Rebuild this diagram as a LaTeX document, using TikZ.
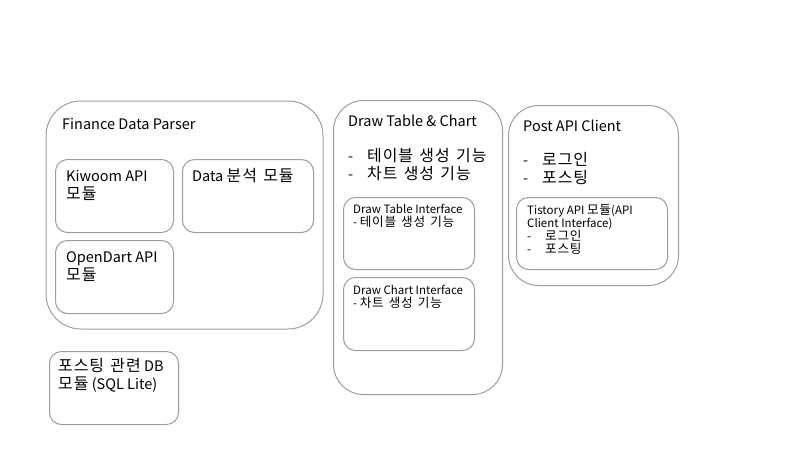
\documentclass[tikz,border=0pt]{standalone}
\usepackage{fontspec}
\setmainfont{Noto Sans CJK KR}
\newfontfamily\krf{Noto Sans CJK KR}[Scale=1.1,LetterSpace=6,WordSpace=1.4]
\newcommand{\kr}[1]{{\krf #1}}
\begin{document}
\begin{tikzpicture}[x=1pt,y=-1pt,
  outerbox/.style={draw=black!38, line width=1pt, rounded corners=30pt, anchor=north west, inner sep=0pt},
  innerbox/.style={draw=black!38, line width=1pt, rounded corners=12pt, anchor=north west, inner sep=0pt},
  big/.style={anchor=base west, inner sep=0pt, font=\fontsize{14.5}{16}\selectfont},
  small/.style={anchor=base west, inner sep=0pt, font=\fontsize{11.5}{13}\selectfont}]
\useasboundingbox (0,0) rectangle (800,450);
% Finance Data Parser
\node[outerbox, minimum width=277pt, minimum height=228pt, rounded corners=35pt] (fdp) at (45.5,100.5) {};
\node[big] (fdpT) at (62,129) {Finance Data Parser};
\node[innerbox, minimum width=118pt, minimum height=73pt] (kiw) at (55,159) {};
\node[big] (kiwA) at (66,181) {Kiwoom API};
\node[big] (kiwB) at (66,199) {\kr{모듈}};
\node[innerbox, minimum width=131pt, minimum height=73pt] (dat) at (182,159) {};
\node[big] (datA) at (192,181) {Data \kr{분석 모듈}};
\node[innerbox, minimum width=118pt, minimum height=73pt] (odt) at (55,240) {};
\node[big] (odtA) at (66,262) {OpenDart API};
\node[big] (odtB) at (66,280) {\kr{모듈}};
% DB
\node[innerbox, minimum width=129pt, minimum height=73pt] (db) at (49,351) {};
\node[big] (dbA) at (58,371) {\kr{포스팅 관련} DB};
\node[big] (dbB) at (58,389) {\kr{모듈} (SQL Lite)};
% Draw Table & Chart
\node[outerbox, minimum width=169pt, minimum height=294pt] (dtc) at (333,100) {};
\node[big] (dtcT) at (348,126) {Draw Table \& Chart};
\node[big] (dtcD1) at (348,161) {-};
\node[big] (dtcL1) at (367,161) {\kr{테이블 생성 기능}};
\node[big] (dtcD2) at (348,179) {-};
\node[big] (dtcL2) at (367,179) {\kr{차트 생성 기능}};
\node[innerbox, minimum width=131pt, minimum height=72pt] (dti) at (343,197) {};
\node[small] (dtiA) at (353,213) {Draw Table Interface};
\node[small] (dtiB) at (353,226) {- \kr{테이블 생성 기능}};
\node[innerbox, minimum width=131pt, minimum height=73pt] (dci) at (343,277) {};
\node[small] (dciA) at (353,294) {Draw Chart Interface};
\node[small] (dciB) at (353,307) {- \kr{차트 생성 기능}};
% Post API Client
\node[outerbox, minimum width=170pt, minimum height=180pt] (pac) at (508,105) {};
\node[big] (pacT) at (523,131) {Post API Client};
\node[big] (pacD1) at (523,165) {-};
\node[big] (pacL1) at (542,165) {\kr{로그인}};
\node[big] (pacD2) at (523,183) {-};
\node[big] (pacL2) at (542,183) {\kr{포스팅}};
\node[innerbox, minimum width=151pt, minimum height=72pt] (tis) at (516,197) {};
\node[small] (tisA) at (527,214) {Tistory API \kr{모듈}(API};
\node[small] (tisB) at (527,227) {Client Interface)};
\node[small] (tisD1) at (527,240) {-};
\node[small] (tisL1) at (545,240) {\kr{로그인}};
\node[small] (tisD2) at (527,253) {-};
\node[small] (tisL2) at (545,253) {\kr{포스팅}};
\end{tikzpicture}
\end{document}
